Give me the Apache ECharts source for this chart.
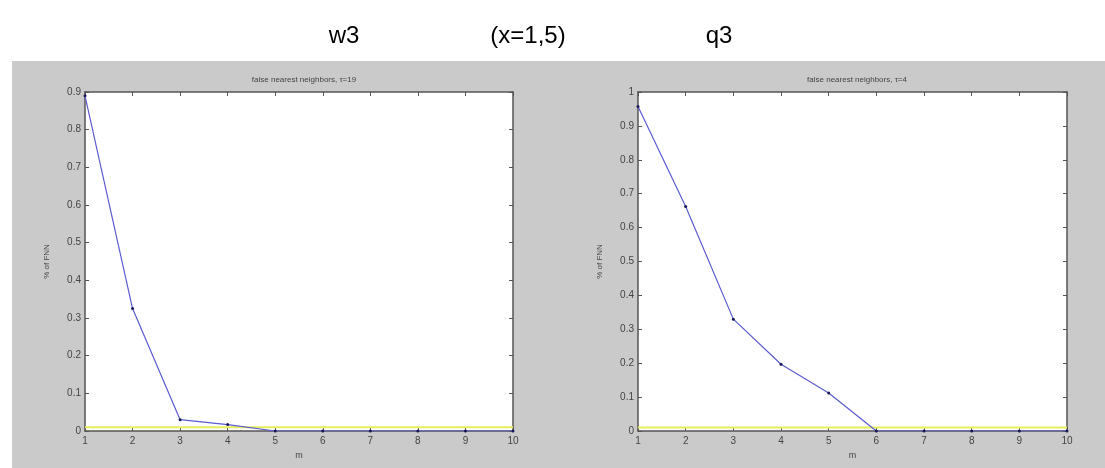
<!DOCTYPE html>
<html>
<head>
<meta charset="utf-8">
<script src="https://cdn.jsdelivr.net/npm/echarts@6/dist/echarts.min.js"></script>
<style>html,body{margin:0;padding:0;background:#fff}#c{width:1105px;height:468px}</style>
</head>
<body>
<div id="c"></div>
<script>
var headerTexts = ['w3', '(x=1,5)', 'q3'];
var titles = ['false nearest neighbors, \u03c4=19', 'false nearest neighbors, \u03c4=4'];
var mValues = [1, 2, 3, 4, 5, 6, 7, 8, 9, 10];
var fnnLeft = [0.89, 0.325, 0.03, 0.017, 0, 0, 0, 0, 0, 0];
var fnnRight = [0.957, 0.662, 0.33, 0.197, 0.112, 0, 0, 0, 0, 0];
var threshold = [0.01, 0.01];
var thresholdX = [1, 10];
var yMaxLeft = 0.9, yMaxRight = 1;
var xLabel = 'm', yLabel = '% of FNN';

var chart = echarts.init(document.getElementById('c'), null, {renderer: 'canvas'});
var axisCol = '#555';
var labelStyle = {color: '#444', fontSize: 10, fontFamily: 'Liberation Sans, Arial'};
function fmt(v){ return v === 0 ? '0' : (Math.round(v*10)/10).toString(); }

var grids = [
  {left: 85, top: 92, width: 428, height: 339, show: true, backgroundColor: '#fff', borderWidth: 0},
  {left: 638, top: 92, width: 429, height: 339, show: true, backgroundColor: '#fff', borderWidth: 0}
];
var xAxes = [], yAxes = [];
[0,1].forEach(function(g){
  var ymax = g === 0 ? yMaxLeft : yMaxRight;
  xAxes.push({type: 'value', gridIndex: g, position: 'bottom', min: 1, max: 10, interval: 1,
    name: xLabel, nameLocation: 'middle', nameGap: 18, nameTextStyle: {color: '#444', fontSize: 9},
    axisLine: {show: true, onZero: false, lineStyle: {color: axisCol, width: 1.5}},
    axisTick: {show: true, inside: true, length: 4, lineStyle: {color: axisCol}},
    axisLabel: Object.assign({margin: 5}, labelStyle), splitLine: {show: false}});
  xAxes.push({type: 'value', gridIndex: g, position: 'top', min: 1, max: 10, interval: 1,
    axisLine: {show: true, onZero: false, lineStyle: {color: axisCol, width: 1.5}},
    axisTick: {show: true, inside: true, length: 4, lineStyle: {color: axisCol}},
    axisLabel: {show: false}, splitLine: {show: false}});
  yAxes.push({type: 'value', gridIndex: g, position: 'left', min: 0, max: ymax, interval: 0.1,
    name: yLabel, nameLocation: 'middle', nameGap: 34, nameRotate: 90, nameTextStyle: {color: '#444', fontSize: 8},
    axisLine: {show: true, onZero: false, lineStyle: {color: axisCol, width: 1.5}},
    axisTick: {show: true, inside: true, length: 4, lineStyle: {color: axisCol}},
    axisLabel: Object.assign({formatter: fmt, margin: 4}, labelStyle), splitLine: {show: false}});
  yAxes.push({type: 'value', gridIndex: g, position: 'right', min: 0, max: ymax, interval: 0.1,
    axisLine: {show: true, onZero: false, lineStyle: {color: axisCol, width: 1.5}},
    axisTick: {show: true, inside: true, length: 4, lineStyle: {color: axisCol}},
    axisLabel: {show: false}, splitLine: {show: false}});
});

function pairs(xs, ys){ return xs.map(function(x,i){ return [x, ys[i]]; }); }

var series = [];
[0,1].forEach(function(g){
  series.push({type: 'line', xAxisIndex: g*2, yAxisIndex: g*2, data: pairs(thresholdX, threshold),
    symbol: 'none', lineStyle: {color: '#e6ef5a', width: 2}, silent: true, z: 2});
  series.push({type: 'line', xAxisIndex: g*2, yAxisIndex: g*2, data: pairs(mValues, g === 0 ? fnnLeft : fnnRight),
    symbol: 'circle', symbolSize: 3, itemStyle: {color: '#1a1a5a'},
    lineStyle: {color: '#5b5bd0', width: 1.2}, z: 3});
});

var hdrFont = '24px "Liberation Sans", Arial';
chart.setOption({
  animation: false,
  backgroundColor: '#fff',
  graphic: [
    {type: 'rect', shape: {x: 12, y: 61, width: 1093, height: 407}, style: {fill: '#cacaca'}, z: -10},
    {type: 'text', x: 344, y: 36, style: {text: headerTexts[0], font: hdrFont, fill: '#000', textAlign: 'center', textVerticalAlign: 'middle'}},
    {type: 'text', x: 528, y: 36, style: {text: headerTexts[1], font: hdrFont, fill: '#000', textAlign: 'center', textVerticalAlign: 'middle'}},
    {type: 'text', x: 719, y: 36, style: {text: headerTexts[2], font: hdrFont, fill: '#000', textAlign: 'center', textVerticalAlign: 'middle'}}
  ],
  title: [
    {text: titles[0], left: 299, top: 71, textAlign: 'center', textStyle: {fontSize: 8, fontWeight: 'normal', color: '#444'}},
    {text: titles[1], left: 852, top: 71, textAlign: 'center', textStyle: {fontSize: 8, fontWeight: 'normal', color: '#444'}}
  ],
  grid: grids,
  xAxis: xAxes,
  yAxis: yAxes,
  series: series
});
</script>
</body>
</html>
